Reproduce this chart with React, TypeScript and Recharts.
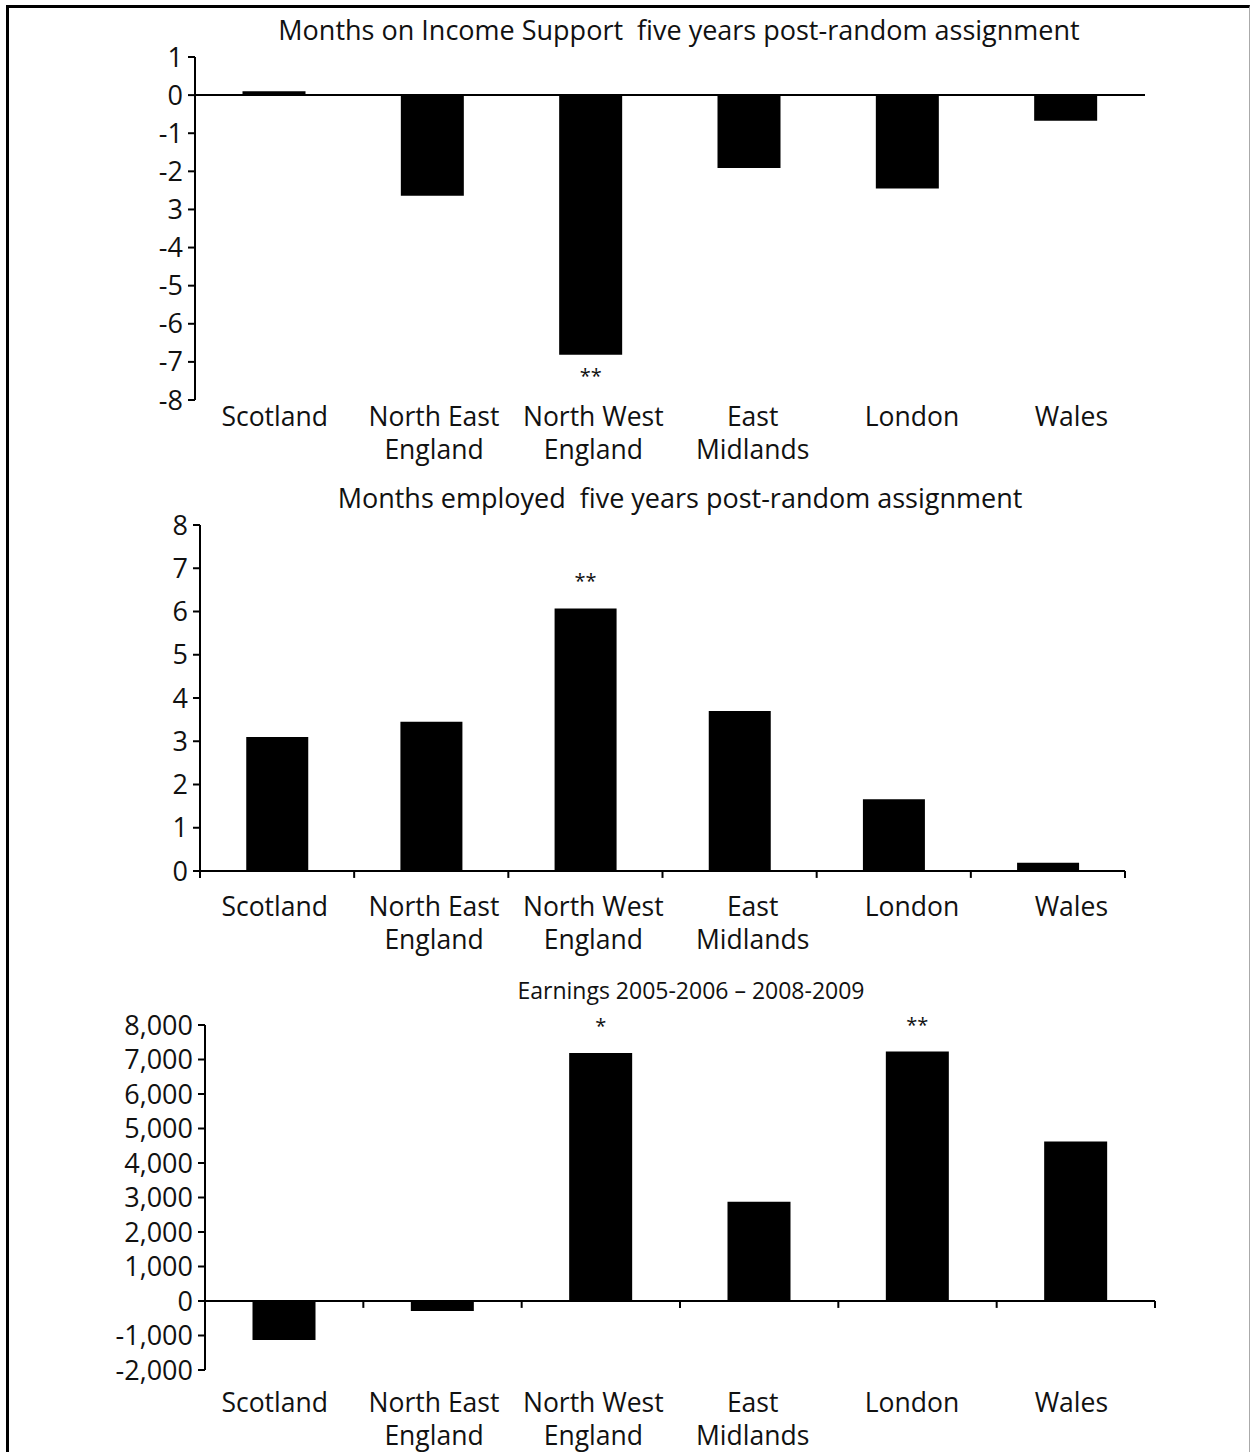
import { BarChart, Bar, XAxis, YAxis, ReferenceLine, LabelList } from 'recharts';

const regions = [
  'Scotland',
  'North East\nEngland',
  'North West\nEngland',
  'East\nMidlands',
  'London',
  'Wales',
];

const incomeSupportMonths = [0.1, -2.64, -6.81, -1.91, -2.45, -0.67];
const incomeSupportSig = ['', '', '**', '', '', ''];
const incomeSupportTicks = [-8, -7, -6, -5, -4, -3, -2, -1, 0, 1];
const incomeSupportTickLabels = ['-8', '-7', '-6', '-5', '-4', '3', '-2', '-1', '0', '1'];

const employedMonths = [3.1, 3.45, 6.07, 3.7, 1.66, 0.19];
const employedSig = ['', '', '**', '', '', ''];
const employedTicks = [0, 1, 2, 3, 4, 5, 6, 7, 8];
const employedTickLabels = ['0', '1', '2', '3', '4', '5', '6', '7', '8'];

const earnings = [-1130, -290, 7190, 2880, 7230, 4620];
const earningsSig = ['', '', '*', '', '**', ''];
const earningsTicks = [-2000, -1000, 0, 1000, 2000, 3000, 4000, 5000, 6000, 7000, 8000];
const earningsTickLabels = ['-2,000', '-1,000', '0', '1,000', '2,000', '3,000', '4,000', '5,000', '6,000', '7,000', '8,000'];

const FONT = '"Open Sans", "Noto Sans", sans-serif';
const INK = '#111';

function RegionTick(props: any) {
  const { x, y, payload, gap } = props;
  const lines = String(payload.value).split('\n');
  return (
    <text x={x} y={y + gap} textAnchor="middle" fontFamily={FONT} fontSize={26.5} fill={INK}>
      {lines.map((line, i) => (
        <tspan key={i} x={x} dy={i === 0 ? 0 : 33}>
          {line}
        </tspan>
      ))}
    </text>
  );
}

function sigLabel(values: number[]) {
  return (props: any) => {
    const vb = props.viewBox ?? props;
    const { x, y, width, height } = vb;
    const text = props.value;
    if (!text) return null;
    const v = values[props.index];
    const top = Math.min(y, y + height);
    const bottom = Math.max(y, y + height);
    const ty = v >= 0 ? top - 20 : bottom + 28;
    return (
      <text x={x + width / 2} y={ty} textAnchor="middle" fontFamily={FONT} fontSize={20} fill={INK}>
        {text}
      </text>
    );
  };
}

type PanelProps = {
  title: string;
  titleTop: number;
  titleCenter: number;
  titleSize: number;
  top: number;
  height: number;
  marginTop: number;
  marginRight: number;
  yAxisWidth: number;
  xAxisHeight: number;
  labelGap: number;
  labelPad: { left: number; right: number };
  values: number[];
  sig: string[];
  ticks: number[];
  tickLabels: string[];
  boundaries: number[];
  tickDepth: number;
};

function Panel(p: PanelProps) {
  const data = regions.map((region, i) => ({ region, pos: i + 0.5, value: p.values[i], sig: p.sig[i] }));
  const domain = [p.ticks[0], p.ticks[p.ticks.length - 1]];
  return (
    <>
      <div
        style={{
          position: 'absolute',
          top: p.titleTop,
          left: p.titleCenter - 600,
          width: 1200,
          textAlign: 'center',
          fontFamily: FONT,
          fontSize: p.titleSize,
          lineHeight: '30px',
          whiteSpace: 'pre',
          color: INK,
        }}
      >
        {p.title}
      </div>
      <div style={{ position: 'absolute', top: p.top, left: 0 }}>
        <BarChart
          width={1252}
          height={p.height}
          data={data}
          margin={{ top: p.marginTop, right: p.marginRight, left: 0, bottom: 0 }}
          barCategoryGap="30%"
        >
          <XAxis xAxisId="bars" dataKey="region" type="category" height={0} hide />
          <XAxis xAxisId="num" dataKey="pos" type="number" domain={[0, 6]} allowDataOverflow height={0} hide />
          <XAxis
            xAxisId="lab"
            dataKey="region"
            type="category"
            height={p.xAxisHeight}
            padding={p.labelPad}
            axisLine={false}
            tickLine={false}
            tickSize={0}
            tickMargin={0}
            interval={0}
            tick={<RegionTick gap={p.labelGap} />}
          />
          <YAxis
            width={p.yAxisWidth}
            domain={domain}
            ticks={p.ticks}
            interval={0}
            allowDataOverflow
            tickFormatter={(v: number) => p.tickLabels[p.ticks.indexOf(v)] ?? String(v)}
            tick={{ fontSize: 27, fill: INK, fontFamily: FONT }}
            axisLine={{ stroke: '#000', strokeWidth: 2 }}
            tickLine={{ stroke: '#000', strokeWidth: 2 }}
            tickSize={7}
            tickMargin={5}
          />
          <Bar xAxisId="bars" dataKey="value" fill="#000" isAnimationActive={false}>
            <LabelList dataKey="sig" content={sigLabel(p.values)} />
          </Bar>
          <ReferenceLine xAxisId="num" y={0} stroke="#000" strokeWidth={2} />
          {p.boundaries.map((k) => (
            <ReferenceLine
              key={k}
              xAxisId="num"
              ifOverflow="visible"
              segment={[
                { x: k, y: 0 },
                { x: k, y: -p.tickDepth },
              ]}
              stroke="#000"
              strokeWidth={2}
            />
          ))}
        </BarChart>
      </div>
    </>
  );
}

export default function App() {
  return (
    <div style={{ position: 'absolute', left: 0, top: 0, width: 1252, height: 1452 }}>
      <div
        style={{
          position: 'absolute',
          left: 6,
          top: 5,
          width: 1244,
          height: 1447,
          boxSizing: 'border-box',
          borderTop: '3px solid #000',
          borderLeft: '3px solid #000',
          borderRight: '1px solid #aaa',
        }}
      />
      <Panel
        title="Months on Income Support  five years post-random assignment"
        titleTop={15}
        titleCenter={679}
        titleSize={27}
        top={0}
        height={480}
        marginTop={57}
        marginRight={107}
        yAxisWidth={195}
        xAxisHeight={80}
        labelGap={26}
        labelPad={{ left: 0, right: -6 }}
        values={incomeSupportMonths}
        sig={incomeSupportSig}
        ticks={incomeSupportTicks}
        tickLabels={incomeSupportTickLabels}
        boundaries={[]}
        tickDepth={0}
      />
      <Panel
        title="Months employed  five years post-random assignment"
        titleTop={483}
        titleCenter={680}
        titleSize={27}
        top={480}
        height={480}
        marginTop={45}
        marginRight={127}
        yAxisWidth={200}
        xAxisHeight={89}
        labelGap={45}
        labelPad={{ left: -5, right: -26 }}
        values={employedMonths}
        sig={employedSig}
        ticks={employedTicks}
        tickLabels={employedTickLabels}
        boundaries={[0, 1, 2, 3, 4, 5, 6]}
        tickDepth={0.16}
      />
      <Panel
        title="Earnings 2005-2006 – 2008-2009"
        titleTop={975}
        titleCenter={691}
        titleSize={23}
        top={960}
        height={492}
        marginTop={65}
        marginRight={97}
        yAxisWidth={205}
        xAxisHeight={82}
        labelGap={42}
        labelPad={{ left: -10, right: 4 }}
        values={earnings}
        sig={earningsSig}
        ticks={earningsTicks}
        tickLabels={earningsTickLabels}
        boundaries={[1, 2, 3, 4, 5, 6]}
        tickDepth={200}
      />
    </div>
  );
}
